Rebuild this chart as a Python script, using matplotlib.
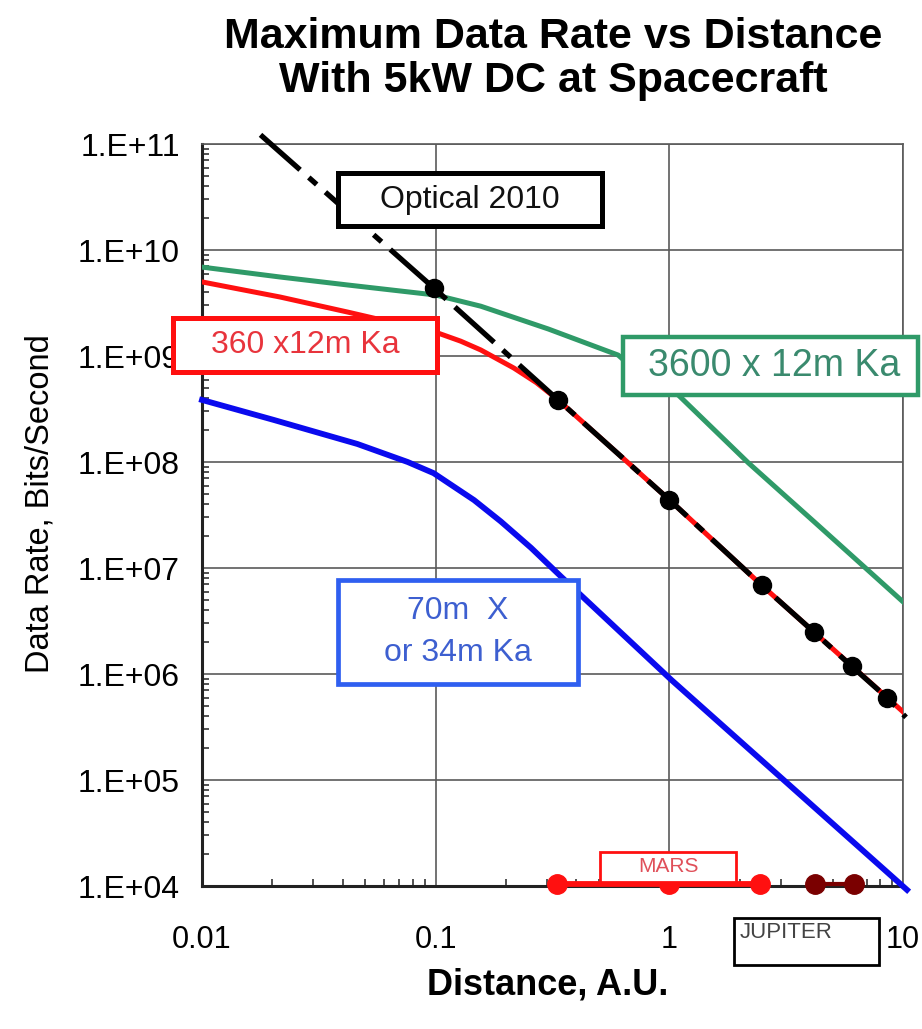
import matplotlib
matplotlib.use("Agg")
import matplotlib.pyplot as plt
from matplotlib.patches import Rectangle
from matplotlib.ticker import LogLocator, NullFormatter

plt.rcParams['font.family'] = ['Liberation Sans', 'DejaVu Sans']

# values (distance in AU, rate in bits/s)
dist_green = [0.01, 0.0216, 0.0419, 0.1, 0.156, 0.303, 0.604, 0.8, 1.094, 2.18, 4.19, 10.0]
rate_green = [6.9e9, 5.56e9, 4.68e9, 3.76e9, 2.95e9, 1.8e9, 1.02e9, 5.9e8, 4.27e8, 9.8e7,
              2.7e7, 4.8e6]

dist_red = [0.01, 0.0216, 0.0419, 0.102, 0.128, 0.156, 0.216, 0.27, 0.334, 0.581, 1.0,
            2.48, 10.0]
rate_red = [5.0e9, 3.6e9, 2.6e9, 1.65e9, 1.38e9, 1.14e9, 7.7e8, 5.6e8, 3.85e8, 1.29e8,
            4.4e7, 6.9e6, 4.4e5]

dist_blue = [0.01, 0.0202, 0.0462, 0.0759, 0.098, 0.146, 0.19, 0.256, 0.344, 1.02, 10.4]
rate_blue = [3.85e8, 2.5e8, 1.48e8, 1.0e8, 7.85e7, 4.37e7, 2.75e7, 1.55e7, 8.3e6, 8.8e5, 9.2e3]

dist_optical = [0.0178, 0.098, 0.334, 1.0, 2.48, 4.15, 6.04, 8.53, 10.3]
rate_optical = [1.22e11, 4.4e9, 3.85e8, 4.4e7, 6.9e6, 2.5e6, 1.18e6, 6.0e5, 3.9e5]
optical_marked = [1, 2, 3, 4, 5, 6, 7]

mars_dist = [0.33, 1.0, 2.45]
jupiter_dist = [4.2, 6.15]
planet_rate = 1.05e4

xticks = [0.01, 0.1, 1, 10]
xtick_labels = ["0.01", "0.1", "1", "10"]
yticks = [1e4, 1e5, 1e6, 1e7, 1e8, 1e9, 1e10, 1e11]
ytick_labels = ["1.E+04", "1.E+05", "1.E+06", "1.E+07", "1.E+08", "1.E+09", "1.E+10", "1.E+11"]

GREEN = "#2f9a68"
RED = "#ff1010"
BLUE = "#0a0aee"
DARKRED = "#7a0000"

fig = plt.figure(figsize=(9.22, 10.29), dpi=100)
ax = fig.add_axes([202 / 922, 1 - 886 / 1029, 701 / 922, 742 / 1029])
ax.set_xscale("log")
ax.set_yscale("log")
ax.set_xlim(0.01, 10)
ax.set_ylim(1e4, 1e11)

ax.plot(dist_green, rate_green, color=GREEN, lw=3.6, zorder=3, solid_joinstyle="round")
ax.plot(dist_blue, rate_blue, color=BLUE, lw=4.2, zorder=3, clip_on=False,
        solid_joinstyle="round")
ax.plot(dist_red, rate_red, color=RED, lw=3.6, zorder=3, solid_joinstyle="round")
ax.plot(dist_optical, rate_optical, color="black", lw=3.8, dashes=(10, 2.2, 2, 2.2),
        marker="o", markersize=13, markevery=optical_marked, zorder=4, clip_on=False)

# Mars and Jupiter distance ranges on the x axis
ax.plot(mars_dist, [planet_rate] * len(mars_dist), color=RED, lw=4.2, marker="o",
        markersize=14, zorder=6, clip_on=False)
ax.plot(jupiter_dist, [planet_rate] * len(jupiter_dist), color=DARKRED, lw=3, marker="o",
        markersize=14, zorder=6, clip_on=False)

# grid / ticks in the old spreadsheet style
ax.grid(True, which="major", color="#5a5a5a", lw=1.2, zorder=1)
ax.set_axisbelow(True)
ax.set_xticks(xticks, xtick_labels)
ax.set_yticks(yticks, ytick_labels)
ax.xaxis.set_minor_locator(LogLocator(base=10, subs=range(2, 10), numticks=20))
ax.yaxis.set_minor_locator(LogLocator(base=10, subs=range(2, 10), numticks=20))
ax.xaxis.set_minor_formatter(NullFormatter())
ax.yaxis.set_minor_formatter(NullFormatter())
ax.tick_params(axis="x", which="major", length=0, pad=28, labelsize=22)
ax.tick_params(axis="y", which="major", length=0, pad=16, labelsize=23)
ax.tick_params(which="minor", direction="in", length=5, width=1.2, color="#333333")
ax.tick_params(which="minor", top=False, right=False)
for side in ["left", "bottom"]:
    ax.spines[side].set_linewidth(2.2)
    ax.spines[side].set_color("#222222")
for side in ["top", "right"]:
    ax.spines[side].set_linewidth(1.2)
    ax.spines[side].set_color("#5a5a5a")


def label_box(x0, y0, x1, y1, edge, lw, zorder=7):
    ax.add_patch(Rectangle((x0, y0), x1 - x0, y1 - y0, transform=ax.transAxes,
                           facecolor="white", edgecolor=edge, lw=lw,
                           zorder=zorder, clip_on=False))


label_box(0.194, 0.889, 0.571, 0.961, "black", 3.6)
ax.text(0.382, 0.925, "Optical 2010", transform=ax.transAxes, ha="center", va="center",
        fontsize=23, color="#111111", zorder=8)

label_box(-0.041, 0.693, 0.335, 0.765, RED, 3.6)
ax.text(0.147, 0.729, "360 x12m Ka", transform=ax.transAxes, ha="center", va="center",
        fontsize=23, color="#e8343c", zorder=8)

label_box(0.601, 0.662, 1.021, 0.740, GREEN, 3.2)
ax.text(0.816, 0.701, "3600 x 12m Ka", transform=ax.transAxes, ha="center", va="center",
        fontsize=27, color="#3a8a6e", zorder=8)

label_box(0.194, 0.272, 0.536, 0.412, "#2f5ff0", 3.4)
ax.text(0.365, 0.342, "70m  X\nor 34m Ka", transform=ax.transAxes, ha="center", va="center",
        fontsize=23, color="#3d5fd0", linespacing=1.5, zorder=8)

label_box(0.568, 0.0054, 0.762, 0.0458, RED, 2.0)
ax.text(0.665, 0.026, "MARS", transform=ax.transAxes, ha="center", va="center",
        fontsize=15, color="#e0505a", zorder=8)

label_box(0.759, -0.106, 0.966, -0.043, "black", 2.0)
ax.text(0.767, -0.062, "JUPITER", transform=ax.transAxes, ha="left", va="center",
        fontsize=16, color="#444444", zorder=8)

fig.text(553 / 922, 1 - 37 / 1029, "Maximum Data Rate vs Distance", ha="center", va="center",
         fontsize=31, fontweight="bold")
fig.text(553 / 922, 1 - 81 / 1029, "With 5kW DC at Spacecraft", ha="center", va="center",
         fontsize=31, fontweight="bold")
fig.text(548 / 922, 1 - 985 / 1029, "Distance, A.U.", ha="center", va="center",
         fontsize=26, fontweight="bold")
fig.text(40 / 922, 1 - 504 / 1029, "Data Rate, Bits/Second", ha="center", va="center",
         rotation=90, fontsize=23.5)

fig.savefig("out.png", dpi=100)
